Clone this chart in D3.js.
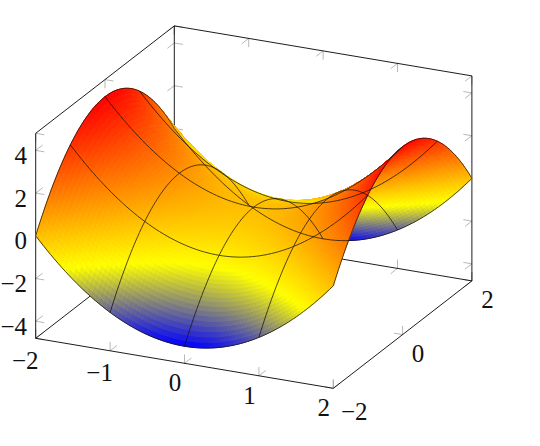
<!DOCTYPE html>
<html>
<head>
<meta charset="utf-8">
<script src="https://cdnjs.cloudflare.com/ajax/libs/d3/7.8.5/d3.min.js"></script>
<style>
html,body{margin:0;padding:0;background:#fff}
svg{display:block}
text{font-family:"Liberation Serif",serif;font-size:25px;fill:#111}
</style>
</head>
<body>
<svg id="chart" width="540" height="446"></svg>
<script>
const xValues = [-2, -1, 0, 1, 2];
const yValues = [-2, -1, 0, 1, 2];
// z sampled at each (x, y); rows follow xValues, columns follow yValues
const zRows = [
  [ 0,  3,  4,  3,  0],
  [-3,  0,  1,  0, -3],
  [-4, -1,  0, -1, -4],
  [-3,  0,  1,  0, -3],
  [ 0,  3,  4,  3,  0]
];
const xTicks = [-2, -1, 0, 1, 2];
const yTicks = [-2, 0, 2];
const zTicks = [-4, -2, 0, 2, 4];
const zDomain = [-4.8, 4.8];
const colorStops = ["#0000ff", "#ffff00", "#ff8000", "#ff0000"];

// oblique projection of the 3D box, one scale per axis and screen direction
const origin = [35.7, 338.3];
const xToPx = d3.scaleLinear().domain([-2, 2]).range([0, 297.6]);
const xToPy = d3.scaleLinear().domain([-2, 2]).range([0, 50]);
const yToPx = d3.scaleLinear().domain([-2, 2]).range([0, 138.6]);
const yToPy = d3.scaleLinear().domain([-2, 2]).range([0, -107.4]);
const zToPy = d3.scaleLinear().domain(zDomain).range([0, -205]);
const project = (x, y, z) => [
  origin[0] + xToPx(x) + yToPx(y),
  origin[1] + xToPy(x) + yToPy(y) + zToPy(z)
];
const color = d3.scaleLinear().domain([-4, -4 / 3, 4 / 3, 4]).range(colorStops).clamp(true);

// smooth patch evaluation through the grid samples
const lagrange = (vals, t) => vals.map((vi, i) => {
  let w = 1;
  vals.forEach((vj, j) => { if (j !== i) w *= (t - vj) / (vi - vj); });
  return w;
});
const surfaceZ = (x, y) => {
  const wx = lagrange(xValues, x), wy = lagrange(yValues, y);
  return d3.sum(zRows, (row, i) => wx[i] * d3.sum(row, (z, j) => wy[j] * z));
};

const sub = 20;
const N = sub * (xValues.length - 1);
const M = sub * (yValues.length - 1);
const gx = d3.scaleLinear().domain([0, N]).range(d3.extent(xValues));
const gy = d3.scaleLinear().domain([0, M]).range(d3.extent(yValues));
const P = (i, j) => project(gx(i), gy(j), surfaceZ(gx(i), gy(j)));

// whole patches are painted back to front, each in its own parameter order
const cells = [];
d3.range(xValues.length - 1).forEach(pi => {
  d3.range(yValues.length - 2, -1, -1).forEach(pj => {
    const i0 = pi * sub, j0 = pj * sub;
    for (let j = j0; j < j0 + sub; j++) {
      for (let i = i0; i < i0 + sub; i++) {
        const zm = surfaceZ(gx(i + 0.5), gy(j + 0.5));
        cells.push({ pts: [P(i, j), P(i + 1, j), P(i + 1, j + 1), P(i, j + 1)], fill: color(zm) });
      }
    }
  });
});

// the mesh lines lie over the whole surface
const meshLines = [
  ...xValues.map((_, k) => d3.range(M + 1).map(j => P(k * sub, j))),
  ...yValues.map((_, k) => d3.range(N + 1).map(i => P(i, k * sub)))
];

const svg = d3.select("#chart");
const line3 = (g, a, b, cls) => g.append("line")
  .attr("x1", a[0]).attr("y1", a[1]).attr("x2", b[0]).attr("y2", b[1])
  .attr("stroke", cls === "tick" ? "#9a9a9a" : "#111")
  .attr("stroke-width", cls === "tick" ? 0.7 : 0.95);

const [z0, z1] = zDomain;
const tx = 0.115, ty = 0.2, tz = 0.41;   // tick lengths, data units
const back = svg.append("g").attr("class", "axes");

const tickPair = (pt, d1, d2) => {
  const p = project(...pt);
  [d1, d2].forEach(d => {
    const q = project(pt[0] + d[0], pt[1] + d[1], pt[2] + d[2]);
    line3(back, p, q, "tick");
  });
};
xTicks.forEach(x => {
  tickPair([x, -2, z0], [0, ty, 0], [0, 0, tz]);
  tickPair([x, 2, z0], [0, -ty, 0], [0, 0, tz]);
  tickPair([x, 2, z1], [0, -ty, 0], [0, 0, -tz]);
});
yTicks.forEach(y => {
  tickPair([-2, y, z0], [tx, 0, 0], [0, 0, tz]);
  tickPair([2, y, z0], [-tx, 0, 0], [0, 0, tz]);
  tickPair([-2, y, z1], [tx, 0, 0], [0, 0, -tz]);
});
zTicks.forEach(z => {
  tickPair([-2, -2, z], [tx, 0, 0], [0, ty, 0]);
  tickPair([-2, 2, z], [tx, 0, 0], [0, -ty, 0]);
  tickPair([2, 2, z], [-tx, 0, 0], [0, -ty, 0]);
});

// box edges
[
  [[-2, -2, z0], [2, -2, z0]],
  [[2, -2, z0], [2, 2, z0]],
  [[2, 2, z0], [-2, 2, z0]],
  [[-2, 2, z0], [-2, -2, z0]],
  [[-2, -2, z0], [-2, -2, z1]],
  [[-2, 2, z0], [-2, 2, z1]],
  [[2, 2, z0], [2, 2, z1]],
  [[-2, -2, z1], [-2, 2, z1]],
  [[-2, 2, z1], [2, 2, z1]]
].forEach(e => line3(back, project(...e[0]), project(...e[1]), "axis"));

// surface
const path = d3.line();
svg.append("g").attr("class", "surface")
  .selectAll("path").data(cells).join("path")
  .attr("d", d => path(d.pts) + "Z")
  .attr("fill", d => d.fill)
  .attr("stroke", d => d.fill)
  .attr("stroke-width", 1)
  .attr("stroke-linejoin", "round");
svg.append("g").attr("class", "mesh")
  .selectAll("path").data(meshLines).join("path")
  .attr("d", path)
  .attr("fill", "none")
  .attr("stroke", "#1a1208")
  .attr("stroke-width", 0.75);

// tick labels
const fmt = v => (v < 0 ? "\u2212" : "") + Math.abs(v);
const labels = svg.append("g").attr("class", "labels");
const label = (p, v, anchor, dx, dy) => labels.append("text")
  .attr("x", p[0] + dx).attr("y", p[1] + dy)
  .attr("text-anchor", anchor).text(fmt(v));
xTicks.forEach(x => label(project(x, -2, z0), x, "middle", x < 0 ? -10.5 : -9.5, (x < 0 ? 21.7 : 19.5) + 8.5));
yTicks.forEach(y => label(project(2, y, z0), y, "middle", y < 0 ? 21 : 15.5, (y < 0 ? 23 : 18.5) + 8.5));
zTicks.forEach(z => label([27, project(-2, -2, z)[1]], z, "end", 0, 5 + 8.5));
</script>
</body>
</html>
